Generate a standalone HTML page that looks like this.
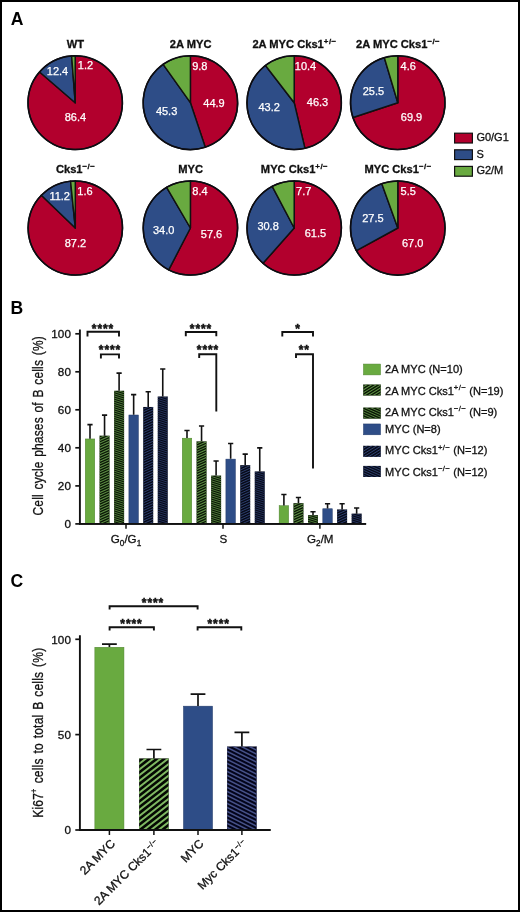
<!DOCTYPE html>
<html lang="en"><head><meta charset="utf-8"><title>Figure</title>
<style>
html,body{margin:0;padding:0;background:#fff;}
body{width:520px;height:912px;overflow:hidden;}
svg{display:block;font-family:"Liberation Sans",sans-serif;}
.t{fill:#111;stroke:#111;stroke-width:0.3px;}
.s{fill:#111;stroke:#111;stroke-width:0.5px;}
.w{fill:#fff;stroke:#fff;stroke-width:0.25px;}
.p{fill:#000;}
</style></head><body>
<svg width="520" height="912" viewBox="0 0 520 912">

<rect x="0" y="0" width="520" height="912" fill="#fff"/>
<rect x="1" y="1" width="518" height="910" fill="none" stroke="#000" stroke-width="2"/>
<text x="10.7" y="25" font-size="17.6" font-weight="bold" class="p">A</text>
<text x="10.6" y="313.8" font-size="17.6" font-weight="bold" class="p">B</text>
<text x="10.5" y="587.3" font-size="17.6" font-weight="bold" class="p">C</text>
<g><path d="M75.20,102.70 L75.20,55.85 A47.2,46.85 0 1 1 39.60,71.94 Z" fill="#B2002D" stroke="#111111" stroke-width="1.45" stroke-linejoin="round"/><path d="M75.20,102.70 L39.60,71.94 A47.2,46.85 0 0 1 71.64,55.98 Z" fill="#2E4D87" stroke="#111111" stroke-width="1.45" stroke-linejoin="round"/><path d="M75.20,102.70 L71.64,55.98 A47.2,46.85 0 0 1 75.20,55.85 Z" fill="#69AA40" stroke="#111111" stroke-width="1.45" stroke-linejoin="round"/><ellipse cx="75.2" cy="102.7" rx="47.2" ry="46.85" fill="none" stroke="#0c0c12" stroke-width="1.5"/></g>
<text x="75.5" y="48.0" font-size="11.15" font-weight="bold" text-anchor="middle" class="t">WT</text>
<text x="75.4" y="120.8" font-size="11" text-anchor="middle" class="w">86.4</text>
<text x="57.5" y="75.3" font-size="11" text-anchor="middle" class="w">12.4</text>
<text x="85.5" y="69.3" font-size="11" text-anchor="middle" class="w">1.2</text>
<g><path d="M190.40,102.70 L190.40,55.85 A47.2,46.85 0 0 1 205.27,147.17 Z" fill="#B2002D" stroke="#111111" stroke-width="1.45" stroke-linejoin="round"/><path d="M190.40,102.70 L205.27,147.17 A47.2,46.85 0 0 1 163.14,64.45 Z" fill="#2E4D87" stroke="#111111" stroke-width="1.45" stroke-linejoin="round"/><path d="M190.40,102.70 L163.14,64.45 A47.2,46.85 0 0 1 190.40,55.85 Z" fill="#69AA40" stroke="#111111" stroke-width="1.45" stroke-linejoin="round"/><ellipse cx="190.4" cy="102.7" rx="47.2" ry="46.85" fill="none" stroke="#0c0c12" stroke-width="1.5"/></g>
<text x="190.7" y="48.0" font-size="11.15" font-weight="bold" text-anchor="middle" class="t">2A MYC</text>
<text x="214" y="107.1" font-size="11" text-anchor="middle" class="w">44.9</text>
<text x="166.6" y="114.6" font-size="11" text-anchor="middle" class="w">45.3</text>
<text x="199.8" y="69.6" font-size="11" text-anchor="middle" class="w">9.8</text>
<g><path d="M294.20,102.70 L294.20,55.85 A47.2,46.85 0 0 1 304.94,148.32 Z" fill="#B2002D" stroke="#111111" stroke-width="1.45" stroke-linejoin="round"/><path d="M294.20,102.70 L304.94,148.32 A47.2,46.85 0 0 1 265.48,65.52 Z" fill="#2E4D87" stroke="#111111" stroke-width="1.45" stroke-linejoin="round"/><path d="M294.20,102.70 L265.48,65.52 A47.2,46.85 0 0 1 294.20,55.85 Z" fill="#69AA40" stroke="#111111" stroke-width="1.45" stroke-linejoin="round"/><ellipse cx="294.2" cy="102.7" rx="47.2" ry="46.85" fill="none" stroke="#0c0c12" stroke-width="1.5"/></g>
<text x="294.5" y="48.0" font-size="11.15" font-weight="bold" text-anchor="middle" class="t">2A MYC Cks1<tspan dy="-4.3" font-size="7.9" letter-spacing="0.45">+/&#8722;</tspan></text>
<text x="317.5" y="106.4" font-size="11" text-anchor="middle" class="w">46.3</text>
<text x="269.2" y="110.8" font-size="11" text-anchor="middle" class="w">43.2</text>
<text x="305.5" y="69.6" font-size="11" text-anchor="middle" class="w">10.4</text>
<g><path d="M397.80,102.70 L397.80,55.85 A47.2,46.85 0 1 1 353.00,117.46 Z" fill="#B2002D" stroke="#111111" stroke-width="1.45" stroke-linejoin="round"/><path d="M397.80,102.70 L353.00,117.46 A47.2,46.85 0 0 1 384.35,57.79 Z" fill="#2E4D87" stroke="#111111" stroke-width="1.45" stroke-linejoin="round"/><path d="M397.80,102.70 L384.35,57.79 A47.2,46.85 0 0 1 397.80,55.85 Z" fill="#69AA40" stroke="#111111" stroke-width="1.45" stroke-linejoin="round"/><ellipse cx="397.8" cy="102.7" rx="47.2" ry="46.85" fill="none" stroke="#0c0c12" stroke-width="1.5"/></g>
<text x="398.1" y="48.0" font-size="11.15" font-weight="bold" text-anchor="middle" class="t">2A MYC Cks1<tspan dy="-4.3" font-size="7.9" letter-spacing="0.45">&#8722;/&#8722;</tspan></text>
<text x="411.5" y="120.8" font-size="11" text-anchor="middle" class="w">69.9</text>
<text x="373.4" y="95.4" font-size="11" text-anchor="middle" class="w">25.5</text>
<text x="408.2" y="69.6" font-size="11" text-anchor="middle" class="w">4.6</text>
<g><path d="M75.30,228.00 L75.30,180.90 A47.2,47.1 0 1 1 41.30,195.33 Z" fill="#B2002D" stroke="#111111" stroke-width="1.45" stroke-linejoin="round"/><path d="M75.30,228.00 L41.30,195.33 A47.2,47.1 0 0 1 70.56,181.14 Z" fill="#2E4D87" stroke="#111111" stroke-width="1.45" stroke-linejoin="round"/><path d="M75.30,228.00 L70.56,181.14 A47.2,47.1 0 0 1 75.30,180.90 Z" fill="#69AA40" stroke="#111111" stroke-width="1.45" stroke-linejoin="round"/><ellipse cx="75.3" cy="228.0" rx="47.2" ry="47.1" fill="none" stroke="#0c0c12" stroke-width="1.5"/></g>
<text x="75.6" y="173.1" font-size="11.15" font-weight="bold" text-anchor="middle" class="t">Cks1<tspan dy="-4.3" font-size="7.9" letter-spacing="0.45">&#8722;/&#8722;</tspan></text>
<text x="75.4" y="247.1" font-size="11" text-anchor="middle" class="w">87.2</text>
<text x="59.7" y="200.3" font-size="11" text-anchor="middle" class="w">11.2</text>
<text x="85" y="194.6" font-size="11" text-anchor="middle" class="w">1.6</text>
<g><path d="M190.40,228.00 L190.40,180.90 A47.2,47.1 0 1 1 168.71,269.83 Z" fill="#B2002D" stroke="#111111" stroke-width="1.45" stroke-linejoin="round"/><path d="M190.40,228.00 L168.71,269.83 A47.2,47.1 0 0 1 166.63,187.31 Z" fill="#2E4D87" stroke="#111111" stroke-width="1.45" stroke-linejoin="round"/><path d="M190.40,228.00 L166.63,187.31 A47.2,47.1 0 0 1 190.40,180.90 Z" fill="#69AA40" stroke="#111111" stroke-width="1.45" stroke-linejoin="round"/><ellipse cx="190.4" cy="228.0" rx="47.2" ry="47.1" fill="none" stroke="#0c0c12" stroke-width="1.5"/></g>
<text x="190.7" y="173.1" font-size="11.15" font-weight="bold" text-anchor="middle" class="t">MYC</text>
<text x="211.5" y="237.8" font-size="11" text-anchor="middle" class="w">57.6</text>
<text x="163.7" y="233.8" font-size="11" text-anchor="middle" class="w">34.0</text>
<text x="200" y="194.6" font-size="11" text-anchor="middle" class="w">8.4</text>
<g><path d="M294.20,228.00 L294.20,180.90 A47.2,47.1 0 1 1 262.99,263.33 Z" fill="#B2002D" stroke="#111111" stroke-width="1.45" stroke-linejoin="round"/><path d="M294.20,228.00 L262.99,263.33 A47.2,47.1 0 0 1 272.24,186.31 Z" fill="#2E4D87" stroke="#111111" stroke-width="1.45" stroke-linejoin="round"/><path d="M294.20,228.00 L272.24,186.31 A47.2,47.1 0 0 1 294.20,180.90 Z" fill="#69AA40" stroke="#111111" stroke-width="1.45" stroke-linejoin="round"/><ellipse cx="294.2" cy="228.0" rx="47.2" ry="47.1" fill="none" stroke="#0c0c12" stroke-width="1.5"/></g>
<text x="294.5" y="173.1" font-size="11.15" font-weight="bold" text-anchor="middle" class="t">MYC Cks1<tspan dy="-4.3" font-size="7.9" letter-spacing="0.45">+/&#8722;</tspan></text>
<text x="315.4" y="237.1" font-size="11" text-anchor="middle" class="w">61.5</text>
<text x="268.1" y="230.3" font-size="11" text-anchor="middle" class="w">30.8</text>
<text x="303.7" y="194.6" font-size="11" text-anchor="middle" class="w">7.7</text>
<g><path d="M397.80,228.00 L397.80,180.90 A47.2,47.1 0 1 1 356.44,250.69 Z" fill="#B2002D" stroke="#111111" stroke-width="1.45" stroke-linejoin="round"/><path d="M397.80,228.00 L356.44,250.69 A47.2,47.1 0 0 1 381.81,183.68 Z" fill="#2E4D87" stroke="#111111" stroke-width="1.45" stroke-linejoin="round"/><path d="M397.80,228.00 L381.81,183.68 A47.2,47.1 0 0 1 397.80,180.90 Z" fill="#69AA40" stroke="#111111" stroke-width="1.45" stroke-linejoin="round"/><ellipse cx="397.8" cy="228.0" rx="47.2" ry="47.1" fill="none" stroke="#0c0c12" stroke-width="1.5"/></g>
<text x="398.1" y="173.1" font-size="11.15" font-weight="bold" text-anchor="middle" class="t">MYC Cks1<tspan dy="-4.3" font-size="7.9" letter-spacing="0.45">&#8722;/&#8722;</tspan></text>
<text x="412.7" y="247.1" font-size="11" text-anchor="middle" class="w">67.0</text>
<text x="372.9" y="222.1" font-size="11" text-anchor="middle" class="w">27.5</text>
<text x="408.2" y="194.6" font-size="11" text-anchor="middle" class="w">5.5</text>
<rect x="454.6" y="133.2" width="17.8" height="9.8" fill="#B2002D" stroke="#111111" stroke-width="1.2"/>
<text x="476.4" y="141.2" font-size="11" class="t">G0/G1</text>
<rect x="454.6" y="149.8" width="17.8" height="9.8" fill="#2E4D87" stroke="#111111" stroke-width="1.2"/>
<text x="476.4" y="157.8" font-size="11" class="t">S</text>
<rect x="454.6" y="166.4" width="17.8" height="9.8" fill="#69AA40" stroke="#111111" stroke-width="1.2"/>
<text x="476.4" y="174.4" font-size="11" class="t">G2/M</text>
<path d="M79.9,329.6 V523.9 H366.1" fill="none" stroke="#111111" stroke-width="1.9" stroke-linejoin="miter"/>
<line x1="75.3" x2="80" y1="523.9" y2="523.9" stroke="#111111" stroke-width="1.7"/>
<text x="71.1" y="528.1" font-size="11.7" letter-spacing="0.15" text-anchor="end" class="t">0</text>
<line x1="75.3" x2="80" y1="485.9" y2="485.9" stroke="#111111" stroke-width="1.7"/>
<text x="71.1" y="490.1" font-size="11.7" letter-spacing="0.15" text-anchor="end" class="t">20</text>
<line x1="75.3" x2="80" y1="447.8" y2="447.8" stroke="#111111" stroke-width="1.7"/>
<text x="71.1" y="452.0" font-size="11.7" letter-spacing="0.15" text-anchor="end" class="t">40</text>
<line x1="75.3" x2="80" y1="409.8" y2="409.8" stroke="#111111" stroke-width="1.7"/>
<text x="71.1" y="414.0" font-size="11.7" letter-spacing="0.15" text-anchor="end" class="t">60</text>
<line x1="75.3" x2="80" y1="371.8" y2="371.8" stroke="#111111" stroke-width="1.7"/>
<text x="71.1" y="376.0" font-size="11.7" letter-spacing="0.15" text-anchor="end" class="t">80</text>
<line x1="75.3" x2="80" y1="333.8" y2="333.8" stroke="#111111" stroke-width="1.7"/>
<text x="71.1" y="337.9" font-size="11.7" letter-spacing="0.15" text-anchor="end" class="t">100</text>
<text transform="translate(42.6,425.8) rotate(-90) scale(0.82,1)" font-size="14.6" letter-spacing="0.19" word-spacing="1.5" text-anchor="middle" class="t">Cell cycle phases of B cells (%)</text>
<rect x="85.25" y="438.96" width="9.50" height="84.94" fill="#69AA40" stroke="#4f8230" stroke-width="0.5"/>
<path d="M90.00,438.71 V424.64 M87.40,424.64 H92.60" stroke="#111111" stroke-width="1.6" fill="none"/>
<clipPath id="c1"><rect x="99.55" y="435.67" width="10.00" height="88.23"/></clipPath>
<rect x="99.55" y="435.67" width="10.00" height="88.23" fill="#0a1606"/>
<path clip-path="url(#c1)" d="M98.55,435.82L110.55,430.42M98.55,438.42L110.55,433.02M98.55,441.02L110.55,435.62M98.55,443.62L110.55,438.22M98.55,446.22L110.55,440.82M98.55,448.82L110.55,443.42M98.55,451.42L110.55,446.02M98.55,454.02L110.55,448.62M98.55,456.62L110.55,451.22M98.55,459.22L110.55,453.82M98.55,461.82L110.55,456.42M98.55,464.42L110.55,459.02M98.55,467.02L110.55,461.62M98.55,469.62L110.55,464.22M98.55,472.22L110.55,466.82M98.55,474.82L110.55,469.42M98.55,477.42L110.55,472.02M98.55,480.02L110.55,474.62M98.55,482.62L110.55,477.22M98.55,485.22L110.55,479.82M98.55,487.82L110.55,482.42M98.55,490.42L110.55,485.02M98.55,493.02L110.55,487.62M98.55,495.62L110.55,490.22M98.55,498.22L110.55,492.82M98.55,500.82L110.55,495.42M98.55,503.42L110.55,498.02M98.55,506.02L110.55,500.62M98.55,508.62L110.55,503.22M98.55,511.22L110.55,505.82M98.55,513.82L110.55,508.42M98.55,516.42L110.55,511.02M98.55,519.02L110.55,513.62M98.55,521.62L110.55,516.22M98.55,524.22L110.55,518.82M98.55,526.82L110.55,521.42M98.55,529.42L110.55,524.02" stroke="#5c8d43" stroke-width="1.05" fill="none"/>
<path d="M104.55,435.67 V415.13 M101.95,415.13 H107.15" stroke="#111111" stroke-width="1.6" fill="none"/>
<clipPath id="c2"><rect x="114.10" y="390.79" width="10.00" height="133.11"/></clipPath>
<rect x="114.10" y="390.79" width="10.00" height="133.11" fill="#0a1606"/>
<path clip-path="url(#c2)" d="M113.10,386.97L125.10,390.81M113.10,389.12L125.10,392.96M113.10,391.27L125.10,395.11M113.10,393.42L125.10,397.26M113.10,395.57L125.10,399.41M113.10,397.72L125.10,401.56M113.10,399.87L125.10,403.71M113.10,402.02L125.10,405.86M113.10,404.17L125.10,408.01M113.10,406.32L125.10,410.16M113.10,408.47L125.10,412.31M113.10,410.62L125.10,414.46M113.10,412.77L125.10,416.61M113.10,414.92L125.10,418.76M113.10,417.07L125.10,420.91M113.10,419.22L125.10,423.06M113.10,421.37L125.10,425.21M113.10,423.52L125.10,427.36M113.10,425.67L125.10,429.51M113.10,427.82L125.10,431.66M113.10,429.97L125.10,433.81M113.10,432.12L125.10,435.96M113.10,434.27L125.10,438.11M113.10,436.42L125.10,440.26M113.10,438.57L125.10,442.41M113.10,440.72L125.10,444.56M113.10,442.87L125.10,446.71M113.10,445.02L125.10,448.86M113.10,447.17L125.10,451.01M113.10,449.32L125.10,453.16M113.10,451.47L125.10,455.31M113.10,453.62L125.10,457.46M113.10,455.77L125.10,459.61M113.10,457.92L125.10,461.76M113.10,460.07L125.10,463.91M113.10,462.22L125.10,466.06M113.10,464.37L125.10,468.21M113.10,466.52L125.10,470.36M113.10,468.67L125.10,472.51M113.10,470.82L125.10,474.66M113.10,472.97L125.10,476.81M113.10,475.12L125.10,478.96M113.10,477.27L125.10,481.11M113.10,479.42L125.10,483.26M113.10,481.57L125.10,485.41M113.10,483.72L125.10,487.56M113.10,485.87L125.10,489.71M113.10,488.02L125.10,491.86M113.10,490.17L125.10,494.01M113.10,492.32L125.10,496.16M113.10,494.47L125.10,498.31M113.10,496.62L125.10,500.46M113.10,498.77L125.10,502.61M113.10,500.92L125.10,504.76M113.10,503.07L125.10,506.91M113.10,505.22L125.10,509.06M113.10,507.37L125.10,511.21M113.10,509.52L125.10,513.36M113.10,511.67L125.10,515.51M113.10,513.82L125.10,517.66M113.10,515.97L125.10,519.81M113.10,518.12L125.10,521.96M113.10,520.27L125.10,524.11M113.10,522.42L125.10,526.26M113.10,524.57L125.10,528.41" stroke="#578640" stroke-width="0.90" fill="none"/>
<path d="M119.10,390.79 V373.11 M116.50,373.11 H121.70" stroke="#111111" stroke-width="1.6" fill="none"/>
<rect x="128.90" y="415.00" width="9.50" height="108.90" fill="#2E4D87" stroke="#223a68" stroke-width="0.5"/>
<path d="M133.65,414.75 V394.60 M131.05,394.60 H136.25" stroke="#111111" stroke-width="1.6" fill="none"/>
<clipPath id="c3"><rect x="143.20" y="406.96" width="10.00" height="116.94"/></clipPath>
<rect x="143.20" y="406.96" width="10.00" height="116.94" fill="#060a18"/>
<path clip-path="url(#c3)" d="M142.20,407.11L154.20,401.71M142.20,409.71L154.20,404.31M142.20,412.31L154.20,406.91M142.20,414.91L154.20,409.51M142.20,417.51L154.20,412.11M142.20,420.11L154.20,414.71M142.20,422.71L154.20,417.31M142.20,425.31L154.20,419.91M142.20,427.91L154.20,422.51M142.20,430.51L154.20,425.11M142.20,433.11L154.20,427.71M142.20,435.71L154.20,430.31M142.20,438.31L154.20,432.91M142.20,440.91L154.20,435.51M142.20,443.51L154.20,438.11M142.20,446.11L154.20,440.71M142.20,448.71L154.20,443.31M142.20,451.31L154.20,445.91M142.20,453.91L154.20,448.51M142.20,456.51L154.20,451.11M142.20,459.11L154.20,453.71M142.20,461.71L154.20,456.31M142.20,464.31L154.20,458.91M142.20,466.91L154.20,461.51M142.20,469.51L154.20,464.11M142.20,472.11L154.20,466.71M142.20,474.71L154.20,469.31M142.20,477.31L154.20,471.91M142.20,479.91L154.20,474.51M142.20,482.51L154.20,477.11M142.20,485.11L154.20,479.71M142.20,487.71L154.20,482.31M142.20,490.31L154.20,484.91M142.20,492.91L154.20,487.51M142.20,495.51L154.20,490.11M142.20,498.11L154.20,492.71M142.20,500.71L154.20,495.31M142.20,503.31L154.20,497.91M142.20,505.91L154.20,500.51M142.20,508.51L154.20,503.11M142.20,511.11L154.20,505.71M142.20,513.71L154.20,508.31M142.20,516.31L154.20,510.91M142.20,518.91L154.20,513.51M142.20,521.51L154.20,516.11M142.20,524.11L154.20,518.71M142.20,526.71L154.20,521.31M142.20,529.31L154.20,523.91" stroke="#34467a" stroke-width="0.87" fill="none"/>
<path d="M148.20,406.96 V391.75 M145.60,391.75 H150.80" stroke="#111111" stroke-width="1.6" fill="none"/>
<clipPath id="c4"><rect x="157.75" y="396.50" width="10.00" height="127.40"/></clipPath>
<rect x="157.75" y="396.50" width="10.00" height="127.40" fill="#060a18"/>
<path clip-path="url(#c4)" d="M156.75,392.68L168.75,396.52M156.75,394.83L168.75,398.67M156.75,396.98L168.75,400.82M156.75,399.13L168.75,402.97M156.75,401.28L168.75,405.12M156.75,403.43L168.75,407.27M156.75,405.58L168.75,409.42M156.75,407.73L168.75,411.57M156.75,409.88L168.75,413.72M156.75,412.03L168.75,415.87M156.75,414.18L168.75,418.02M156.75,416.33L168.75,420.17M156.75,418.48L168.75,422.32M156.75,420.63L168.75,424.47M156.75,422.78L168.75,426.62M156.75,424.93L168.75,428.77M156.75,427.08L168.75,430.92M156.75,429.23L168.75,433.07M156.75,431.38L168.75,435.22M156.75,433.53L168.75,437.37M156.75,435.68L168.75,439.52M156.75,437.83L168.75,441.67M156.75,439.98L168.75,443.82M156.75,442.13L168.75,445.97M156.75,444.28L168.75,448.12M156.75,446.43L168.75,450.27M156.75,448.58L168.75,452.42M156.75,450.73L168.75,454.57M156.75,452.88L168.75,456.72M156.75,455.03L168.75,458.87M156.75,457.18L168.75,461.02M156.75,459.33L168.75,463.17M156.75,461.48L168.75,465.32M156.75,463.63L168.75,467.47M156.75,465.78L168.75,469.62M156.75,467.93L168.75,471.77M156.75,470.08L168.75,473.92M156.75,472.23L168.75,476.07M156.75,474.38L168.75,478.22M156.75,476.53L168.75,480.37M156.75,478.68L168.75,482.52M156.75,480.83L168.75,484.67M156.75,482.98L168.75,486.82M156.75,485.13L168.75,488.97M156.75,487.28L168.75,491.12M156.75,489.43L168.75,493.27M156.75,491.58L168.75,495.42M156.75,493.73L168.75,497.57M156.75,495.88L168.75,499.72M156.75,498.03L168.75,501.87M156.75,500.18L168.75,504.02M156.75,502.33L168.75,506.17M156.75,504.48L168.75,508.32M156.75,506.63L168.75,510.47M156.75,508.78L168.75,512.62M156.75,510.93L168.75,514.77M156.75,513.08L168.75,516.92M156.75,515.23L168.75,519.07M156.75,517.38L168.75,521.22M156.75,519.53L168.75,523.37M156.75,521.68L168.75,525.52M156.75,523.83L168.75,527.67" stroke="#2f4072" stroke-width="0.76" fill="none"/>
<path d="M162.75,396.50 V368.93 M160.15,368.93 H165.35" stroke="#111111" stroke-width="1.6" fill="none"/>
<line x1="126.0" x2="126.0" y1="523.9" y2="528.6999999999999" stroke="#111111" stroke-width="1.5"/>
<rect x="182.25" y="438.20" width="9.50" height="85.70" fill="#69AA40" stroke="#4f8230" stroke-width="0.5"/>
<path d="M187.00,437.95 V430.54 M184.40,430.54 H189.60" stroke="#111111" stroke-width="1.6" fill="none"/>
<clipPath id="c5"><rect x="196.55" y="441.37" width="10.00" height="82.53"/></clipPath>
<rect x="196.55" y="441.37" width="10.00" height="82.53" fill="#0a1606"/>
<path clip-path="url(#c5)" d="M195.55,441.52L207.55,436.12M195.55,444.12L207.55,438.72M195.55,446.72L207.55,441.32M195.55,449.32L207.55,443.92M195.55,451.92L207.55,446.52M195.55,454.52L207.55,449.12M195.55,457.12L207.55,451.72M195.55,459.72L207.55,454.32M195.55,462.32L207.55,456.92M195.55,464.92L207.55,459.52M195.55,467.52L207.55,462.12M195.55,470.12L207.55,464.72M195.55,472.72L207.55,467.32M195.55,475.32L207.55,469.92M195.55,477.92L207.55,472.52M195.55,480.52L207.55,475.12M195.55,483.12L207.55,477.72M195.55,485.72L207.55,480.32M195.55,488.32L207.55,482.92M195.55,490.92L207.55,485.52M195.55,493.52L207.55,488.12M195.55,496.12L207.55,490.72M195.55,498.72L207.55,493.32M195.55,501.32L207.55,495.92M195.55,503.92L207.55,498.52M195.55,506.52L207.55,501.12M195.55,509.12L207.55,503.72M195.55,511.72L207.55,506.32M195.55,514.32L207.55,508.92M195.55,516.92L207.55,511.52M195.55,519.52L207.55,514.12M195.55,522.12L207.55,516.72M195.55,524.72L207.55,519.32M195.55,527.32L207.55,521.92M195.55,529.92L207.55,524.52" stroke="#5c8d43" stroke-width="1.05" fill="none"/>
<path d="M201.55,441.37 V425.97 M198.95,425.97 H204.15" stroke="#111111" stroke-width="1.6" fill="none"/>
<clipPath id="c6"><rect x="211.10" y="475.60" width="10.00" height="48.30"/></clipPath>
<rect x="211.10" y="475.60" width="10.00" height="48.30" fill="#0a1606"/>
<path clip-path="url(#c6)" d="M210.10,471.78L222.10,475.62M210.10,473.93L222.10,477.77M210.10,476.08L222.10,479.92M210.10,478.23L222.10,482.07M210.10,480.38L222.10,484.22M210.10,482.53L222.10,486.37M210.10,484.68L222.10,488.52M210.10,486.83L222.10,490.67M210.10,488.98L222.10,492.82M210.10,491.13L222.10,494.97M210.10,493.28L222.10,497.12M210.10,495.43L222.10,499.27M210.10,497.58L222.10,501.42M210.10,499.73L222.10,503.57M210.10,501.88L222.10,505.72M210.10,504.03L222.10,507.87M210.10,506.18L222.10,510.02M210.10,508.33L222.10,512.17M210.10,510.48L222.10,514.32M210.10,512.63L222.10,516.47M210.10,514.78L222.10,518.62M210.10,516.93L222.10,520.77M210.10,519.08L222.10,522.92M210.10,521.23L222.10,525.07M210.10,523.38L222.10,527.22M210.10,525.53L222.10,529.37" stroke="#578640" stroke-width="0.90" fill="none"/>
<path d="M216.10,475.60 V460.96 M213.50,460.96 H218.70" stroke="#111111" stroke-width="1.6" fill="none"/>
<rect x="225.90" y="459.12" width="9.50" height="64.78" fill="#2E4D87" stroke="#223a68" stroke-width="0.5"/>
<path d="M230.65,458.87 V443.47 M228.05,443.47 H233.25" stroke="#111111" stroke-width="1.6" fill="none"/>
<clipPath id="c7"><rect x="240.20" y="465.14" width="10.00" height="58.76"/></clipPath>
<rect x="240.20" y="465.14" width="10.00" height="58.76" fill="#060a18"/>
<path clip-path="url(#c7)" d="M239.20,465.29L251.20,459.89M239.20,467.89L251.20,462.49M239.20,470.49L251.20,465.09M239.20,473.09L251.20,467.69M239.20,475.69L251.20,470.29M239.20,478.29L251.20,472.89M239.20,480.89L251.20,475.49M239.20,483.49L251.20,478.09M239.20,486.09L251.20,480.69M239.20,488.69L251.20,483.29M239.20,491.29L251.20,485.89M239.20,493.89L251.20,488.49M239.20,496.49L251.20,491.09M239.20,499.09L251.20,493.69M239.20,501.69L251.20,496.29M239.20,504.29L251.20,498.89M239.20,506.89L251.20,501.49M239.20,509.49L251.20,504.09M239.20,512.09L251.20,506.69M239.20,514.69L251.20,509.29M239.20,517.29L251.20,511.89M239.20,519.89L251.20,514.49M239.20,522.49L251.20,517.09M239.20,525.09L251.20,519.69M239.20,527.69L251.20,522.29M239.20,530.29L251.20,524.89" stroke="#34467a" stroke-width="0.87" fill="none"/>
<path d="M245.20,465.14 V454.11 M242.60,454.11 H247.80" stroke="#111111" stroke-width="1.6" fill="none"/>
<clipPath id="c8"><rect x="254.75" y="471.42" width="10.00" height="52.48"/></clipPath>
<rect x="254.75" y="471.42" width="10.00" height="52.48" fill="#060a18"/>
<path clip-path="url(#c8)" d="M253.75,467.60L265.75,471.44M253.75,469.75L265.75,473.59M253.75,471.90L265.75,475.74M253.75,474.05L265.75,477.89M253.75,476.20L265.75,480.04M253.75,478.35L265.75,482.19M253.75,480.50L265.75,484.34M253.75,482.65L265.75,486.49M253.75,484.80L265.75,488.64M253.75,486.95L265.75,490.79M253.75,489.10L265.75,492.94M253.75,491.25L265.75,495.09M253.75,493.40L265.75,497.24M253.75,495.55L265.75,499.39M253.75,497.70L265.75,501.54M253.75,499.85L265.75,503.69M253.75,502.00L265.75,505.84M253.75,504.15L265.75,507.99M253.75,506.30L265.75,510.14M253.75,508.45L265.75,512.29M253.75,510.60L265.75,514.44M253.75,512.75L265.75,516.59M253.75,514.90L265.75,518.74M253.75,517.05L265.75,520.89M253.75,519.20L265.75,523.04M253.75,521.35L265.75,525.19M253.75,523.50L265.75,527.34M253.75,525.65L265.75,529.49" stroke="#2f4072" stroke-width="0.76" fill="none"/>
<path d="M259.75,471.42 V447.84 M257.15,447.84 H262.35" stroke="#111111" stroke-width="1.6" fill="none"/>
<line x1="223.0" x2="223.0" y1="523.9" y2="528.6999999999999" stroke="#111111" stroke-width="1.5"/>
<rect x="279.15" y="505.71" width="9.50" height="18.19" fill="#69AA40" stroke="#4f8230" stroke-width="0.5"/>
<path d="M283.90,505.46 V494.43 M281.30,494.43 H286.50" stroke="#111111" stroke-width="1.6" fill="none"/>
<clipPath id="c9"><rect x="293.45" y="503.17" width="10.00" height="20.73"/></clipPath>
<rect x="293.45" y="503.17" width="10.00" height="20.73" fill="#0a1606"/>
<path clip-path="url(#c9)" d="M292.45,503.32L304.45,497.92M292.45,505.92L304.45,500.52M292.45,508.52L304.45,503.12M292.45,511.12L304.45,505.72M292.45,513.72L304.45,508.32M292.45,516.32L304.45,510.92M292.45,518.92L304.45,513.52M292.45,521.52L304.45,516.12M292.45,524.12L304.45,518.72M292.45,526.72L304.45,521.32M292.45,529.32L304.45,523.92" stroke="#5c8d43" stroke-width="1.05" fill="none"/>
<path d="M298.45,503.17 V497.47 M295.85,497.47 H301.05" stroke="#111111" stroke-width="1.6" fill="none"/>
<clipPath id="c10"><rect x="308.00" y="515.15" width="10.00" height="8.75"/></clipPath>
<rect x="308.00" y="515.15" width="10.00" height="8.75" fill="#0a1606"/>
<path clip-path="url(#c10)" d="M307.00,511.33L319.00,515.17M307.00,513.48L319.00,517.32M307.00,515.63L319.00,519.47M307.00,517.78L319.00,521.62M307.00,519.93L319.00,523.77M307.00,522.08L319.00,525.92M307.00,524.23L319.00,528.07" stroke="#578640" stroke-width="0.90" fill="none"/>
<path d="M313.00,515.15 V511.73 M310.40,511.73 H315.60" stroke="#111111" stroke-width="1.6" fill="none"/>
<rect x="322.80" y="508.75" width="9.50" height="15.15" fill="#2E4D87" stroke="#223a68" stroke-width="0.5"/>
<path d="M327.55,508.50 V503.74 M324.95,503.74 H330.15" stroke="#111111" stroke-width="1.6" fill="none"/>
<clipPath id="c11"><rect x="337.10" y="509.45" width="10.00" height="14.45"/></clipPath>
<rect x="337.10" y="509.45" width="10.00" height="14.45" fill="#060a18"/>
<path clip-path="url(#c11)" d="M336.10,509.60L348.10,504.20M336.10,512.20L348.10,506.80M336.10,514.80L348.10,509.40M336.10,517.40L348.10,512.00M336.10,520.00L348.10,514.60M336.10,522.60L348.10,517.20M336.10,525.20L348.10,519.80M336.10,527.80L348.10,522.40M336.10,530.40L348.10,525.00" stroke="#34467a" stroke-width="0.87" fill="none"/>
<path d="M342.10,509.45 V503.74 M339.50,503.74 H344.70" stroke="#111111" stroke-width="1.6" fill="none"/>
<clipPath id="c12"><rect x="351.65" y="513.63" width="10.00" height="10.27"/></clipPath>
<rect x="351.65" y="513.63" width="10.00" height="10.27" fill="#060a18"/>
<path clip-path="url(#c12)" d="M350.65,509.81L362.65,513.65M350.65,511.96L362.65,515.80M350.65,514.11L362.65,517.95M350.65,516.26L362.65,520.10M350.65,518.41L362.65,522.25M350.65,520.56L362.65,524.40M350.65,522.71L362.65,526.55M350.65,524.86L362.65,528.70" stroke="#2f4072" stroke-width="0.76" fill="none"/>
<path d="M356.65,513.63 V507.93 M354.05,507.93 H359.25" stroke="#111111" stroke-width="1.6" fill="none"/>
<line x1="319.9" x2="319.9" y1="523.9" y2="528.6999999999999" stroke="#111111" stroke-width="1.5"/>
<path d="M79,523.9 H366.1" fill="none" stroke="#111111" stroke-width="1.9"/>
<text x="126" y="542.5" font-size="11.6" text-anchor="middle" class="t">G<tspan dy="3.2" font-size="8.2">0</tspan><tspan dy="-3.2">/G</tspan><tspan dy="3.2" font-size="8.2">1</tspan></text>
<text x="223.3" y="542.5" font-size="11.6" text-anchor="middle" class="t">S</text>
<text x="320.3" y="542.5" font-size="11.6" text-anchor="middle" class="t">G<tspan dy="3.2" font-size="8.2">2</tspan><tspan dy="-3.2">/M</tspan></text>
<path d="M87.5,336.4 V331.8 H119 V336.4" fill="none" stroke="#111111" stroke-width="1.9" stroke-linejoin="miter"/>
<text x="103" y="332.8" font-size="12" text-anchor="middle" class="s" font-weight="bold" letter-spacing="0.9">****</text>
<path d="M100.9,358.4 V354.4 H119 V358.4" fill="none" stroke="#111111" stroke-width="1.9" stroke-linejoin="miter"/>
<text x="110" y="354.3" font-size="12" text-anchor="middle" class="s" font-weight="bold" letter-spacing="0.9">****</text>
<path d="M185.8,336.2 V332 H216.3 V336.2" fill="none" stroke="#111111" stroke-width="1.9" stroke-linejoin="miter"/>
<text x="201" y="332.8" font-size="12" text-anchor="middle" class="s" font-weight="bold" letter-spacing="0.9">****</text>
<path d="M199.2,358 V354.2 H216.3 V411.4" fill="none" stroke="#111111" stroke-width="1.9" stroke-linejoin="miter"/>
<text x="208" y="354.3" font-size="12" text-anchor="middle" class="s" font-weight="bold" letter-spacing="0.9">****</text>
<path d="M282.3,336.5 V332 H313 V336.5" fill="none" stroke="#111111" stroke-width="1.9" stroke-linejoin="miter"/>
<text x="298" y="332.8" font-size="12" text-anchor="middle" class="s" font-weight="bold" letter-spacing="0.9">*</text>
<path d="M296,358 V354.2 H313 V468.5" fill="none" stroke="#111111" stroke-width="1.9" stroke-linejoin="miter"/>
<text x="304.2" y="354.3" font-size="12" text-anchor="middle" class="s" font-weight="bold" letter-spacing="0.9">**</text>
<rect x="363.45" y="364.05" width="17.10" height="10.85" fill="#69AA40" stroke="#4f8230" stroke-width="0.5"/>
<text class="t" x="385.1" y="372.7" font-size="11.05">2A MYC (N=10)</text>
<clipPath id="c13"><rect x="363.20" y="384.50" width="17.60" height="11.10"/></clipPath>
<rect x="363.20" y="384.50" width="17.60" height="11.10" fill="#0a1606"/>
<path clip-path="url(#c13)" d="M362.20,384.82L381.80,372.67M362.20,387.72L381.80,375.57M362.20,390.62L381.80,378.47M362.20,393.52L381.80,381.37M362.20,396.42L381.80,384.27M362.20,399.32L381.80,387.17M362.20,402.22L381.80,390.07M362.20,405.12L381.80,392.97M362.20,408.02L381.80,395.87" stroke="#5f9343" stroke-width="1.02" fill="none"/>
<text class="t" x="385.1" y="394.5" font-size="11.05">2A MYC Cks1<tspan dy="-4.5" font-size="7.6" letter-spacing="0.45">+/&#8722;</tspan><tspan dy="4.5"> (N=19)</tspan></text>
<clipPath id="c14"><rect x="363.20" y="407.60" width="17.60" height="11.10"/></clipPath>
<rect x="363.20" y="407.60" width="17.60" height="11.10" fill="#0a1606"/>
<path clip-path="url(#c14)" d="M362.20,398.93L381.80,407.75M362.20,401.43L381.80,410.25M362.20,403.93L381.80,412.75M362.20,406.43L381.80,415.25M362.20,408.93L381.80,417.75M362.20,411.43L381.80,420.25M362.20,413.93L381.80,422.75M362.20,416.43L381.80,425.25M362.20,418.93L381.80,427.75" stroke="#5a8c40" stroke-width="0.91" fill="none"/>
<text class="t" x="385.1" y="415.8" font-size="11.05">2A MYC Cks1<tspan dy="-4.5" font-size="7.6" letter-spacing="0.45">&#8722;/&#8722;</tspan><tspan dy="4.5"> (N=9)</tspan></text>
<rect x="363.45" y="423.95" width="17.10" height="10.85" fill="#2E4D87" stroke="#223a68" stroke-width="0.5"/>
<text class="t" x="385.1" y="432.6" font-size="11.05">MYC (N=8)</text>
<clipPath id="c15"><rect x="363.20" y="445.80" width="17.60" height="11.10"/></clipPath>
<rect x="363.20" y="445.80" width="17.60" height="11.10" fill="#070b1a"/>
<path clip-path="url(#c15)" d="M362.20,446.12L381.80,433.97M362.20,449.02L381.80,436.87M362.20,451.92L381.80,439.77M362.20,454.82L381.80,442.67M362.20,457.72L381.80,445.57M362.20,460.62L381.80,448.47M362.20,463.52L381.80,451.37M362.20,466.42L381.80,454.27M362.20,469.32L381.80,457.17" stroke="#3a4f85" stroke-width="0.85" fill="none"/>
<text class="t" x="385.1" y="454.2" font-size="11.05">MYC Cks1<tspan dy="-4.5" font-size="7.6" letter-spacing="0.45">+/&#8722;</tspan><tspan dy="4.5"> (N=12)</tspan></text>
<clipPath id="c16"><rect x="363.20" y="465.90" width="17.60" height="11.10"/></clipPath>
<rect x="363.20" y="465.90" width="17.60" height="11.10" fill="#070b1a"/>
<path clip-path="url(#c16)" d="M362.20,457.23L381.80,466.05M362.20,459.73L381.80,468.55M362.20,462.23L381.80,471.05M362.20,464.73L381.80,473.55M362.20,467.23L381.80,476.05M362.20,469.73L381.80,478.55M362.20,472.23L381.80,481.05M362.20,474.73L381.80,483.55M362.20,477.23L381.80,486.05" stroke="#36497c" stroke-width="0.82" fill="none"/>
<text class="t" x="385.1" y="475.7" font-size="11.05">MYC Cks1<tspan dy="-4.5" font-size="7.6" letter-spacing="0.45">&#8722;/&#8722;</tspan><tspan dy="4.5"> (N=12)</tspan></text>
<path d="M79.9,635.2 V830.0 H270.5" fill="none" stroke="#111111" stroke-width="1.9" stroke-linejoin="miter"/>
<line x1="75.3" x2="80" y1="830.0" y2="830.0" stroke="#111111" stroke-width="1.7"/>
<text x="71.1" y="834.2" font-size="11.7" letter-spacing="0.15" text-anchor="end" class="t">0</text>
<line x1="75.3" x2="80" y1="734.6" y2="734.6" stroke="#111111" stroke-width="1.7"/>
<text x="71.1" y="738.9" font-size="11.7" letter-spacing="0.15" text-anchor="end" class="t">50</text>
<line x1="75.3" x2="80" y1="639.3" y2="639.3" stroke="#111111" stroke-width="1.7"/>
<text x="71.1" y="643.5" font-size="11.7" letter-spacing="0.15" text-anchor="end" class="t">100</text>
<text transform="translate(42.6,732.7) rotate(-90) scale(0.83,1)" font-size="14.6" letter-spacing="0.19" word-spacing="1.55" text-anchor="middle" class="t">Ki67<tspan dy="-5.2" font-size="9" letter-spacing="0.45">+</tspan><tspan dy="5.2"> cells to total B cells (%)</tspan></text>
<rect x="94.85" y="647.25" width="29.10" height="182.75" fill="#69AA40" stroke="#4f8230" stroke-width="0.5"/>
<path d="M109.40,647.00 V644.07 M102.00,644.07 H116.80" stroke="#111111" stroke-width="1.7" fill="none"/>
<line x1="109.4" x2="109.4" y1="830.0" y2="835.0" stroke="#111111" stroke-width="1.5"/>
<text transform="translate(115.9,844.3) rotate(-45)" font-size="12" text-anchor="end" class="t">2A MYC</text>
<clipPath id="c17"><rect x="139.10" y="758.39" width="29.60" height="71.61"/></clipPath>
<rect x="139.10" y="758.39" width="29.60" height="71.61" fill="#040802"/>
<path clip-path="url(#c17)" d="M138.10,758.87L169.70,734.22M138.10,764.67L169.70,740.02M138.10,770.47L169.70,745.82M138.10,776.27L169.70,751.62M138.10,782.07L169.70,757.42M138.10,787.87L169.70,763.22M138.10,793.67L169.70,769.02M138.10,799.47L169.70,774.82M138.10,805.27L169.70,780.62M138.10,811.07L169.70,786.42M138.10,816.87L169.70,792.22M138.10,822.67L169.70,798.02M138.10,828.47L169.70,803.82M138.10,834.27L169.70,809.62M138.10,840.07L169.70,815.42M138.10,845.87L169.70,821.22M138.10,851.67L169.70,827.02M138.10,857.47L169.70,832.82" stroke="#7fb862" stroke-width="1.97" fill="none"/>
<path d="M153.90,758.39 V749.52 M146.50,749.52 H161.30" stroke="#111111" stroke-width="1.7" fill="none"/>
<line x1="153.9" x2="153.9" y1="830.0" y2="835.0" stroke="#111111" stroke-width="1.5"/>
<text transform="translate(160.4,844.3) rotate(-45)" font-size="12" text-anchor="end" class="t">2A MYC Cks1<tspan dy="-4" font-size="7.5" letter-spacing="0.45">&#8722;/&#8722;</tspan></text>
<rect x="183.45" y="706.16" width="29.10" height="123.84" fill="#2E4D87" stroke="#223a68" stroke-width="0.5"/>
<path d="M198.00,705.91 V694.22 M190.60,694.22 H205.40" stroke="#111111" stroke-width="1.7" fill="none"/>
<line x1="198.0" x2="198.0" y1="830.0" y2="835.0" stroke="#111111" stroke-width="1.5"/>
<text transform="translate(204.5,844.3) rotate(-45)" font-size="12" text-anchor="end" class="t">MYC</text>
<clipPath id="c18"><rect x="227.10" y="746.47" width="29.60" height="83.53"/></clipPath>
<rect x="227.10" y="746.47" width="29.60" height="83.53" fill="#03041a"/>
<path clip-path="url(#c18)" d="M226.10,730.87L257.70,746.67M226.10,734.87L257.70,750.67M226.10,738.87L257.70,754.67M226.10,742.87L257.70,758.67M226.10,746.87L257.70,762.67M226.10,750.87L257.70,766.67M226.10,754.87L257.70,770.67M226.10,758.87L257.70,774.67M226.10,762.87L257.70,778.67M226.10,766.87L257.70,782.67M226.10,770.87L257.70,786.67M226.10,774.87L257.70,790.67M226.10,778.87L257.70,794.67M226.10,782.87L257.70,798.67M226.10,786.87L257.70,802.67M226.10,790.87L257.70,806.67M226.10,794.87L257.70,810.67M226.10,798.87L257.70,814.67M226.10,802.87L257.70,818.67M226.10,806.87L257.70,822.67M226.10,810.87L257.70,826.67M226.10,814.87L257.70,830.67M226.10,818.87L257.70,834.67M226.10,822.87L257.70,838.67M226.10,826.87L257.70,842.67M226.10,830.87L257.70,846.67" stroke="#465188" stroke-width="1.52" fill="none"/>
<path d="M241.90,746.47 V732.36 M234.50,732.36 H249.30" stroke="#111111" stroke-width="1.7" fill="none"/>
<line x1="241.9" x2="241.9" y1="830.0" y2="835.0" stroke="#111111" stroke-width="1.5"/>
<text transform="translate(248.4,844.3) rotate(-45)" font-size="12" text-anchor="end" class="t">Myc Cks1<tspan dy="-4" font-size="7.5" letter-spacing="0.45">&#8722;/&#8722;</tspan></text>
<path d="M79,830.0 H270.5" fill="none" stroke="#111111" stroke-width="1.9"/>
<path d="M109.6,609.6 V606.2 H197.6 V609.6" fill="none" stroke="#111111" stroke-width="1.9" stroke-linejoin="miter"/>
<text x="153" y="606.8" font-size="12" text-anchor="middle" class="s" font-weight="bold" letter-spacing="0.9">****</text>
<path d="M109.6,630.6 V627.2 H153.9 V630.6" fill="none" stroke="#111111" stroke-width="1.9" stroke-linejoin="miter"/>
<text x="131.5" y="627.8" font-size="12" text-anchor="middle" class="s" font-weight="bold" letter-spacing="0.9">****</text>
<path d="M197.6,630.6 V627.2 H241.3 V630.6" fill="none" stroke="#111111" stroke-width="1.9" stroke-linejoin="miter"/>
<text x="218.7" y="627.8" font-size="12" text-anchor="middle" class="s" font-weight="bold" letter-spacing="0.9">****</text>
</svg>
</body></html>
